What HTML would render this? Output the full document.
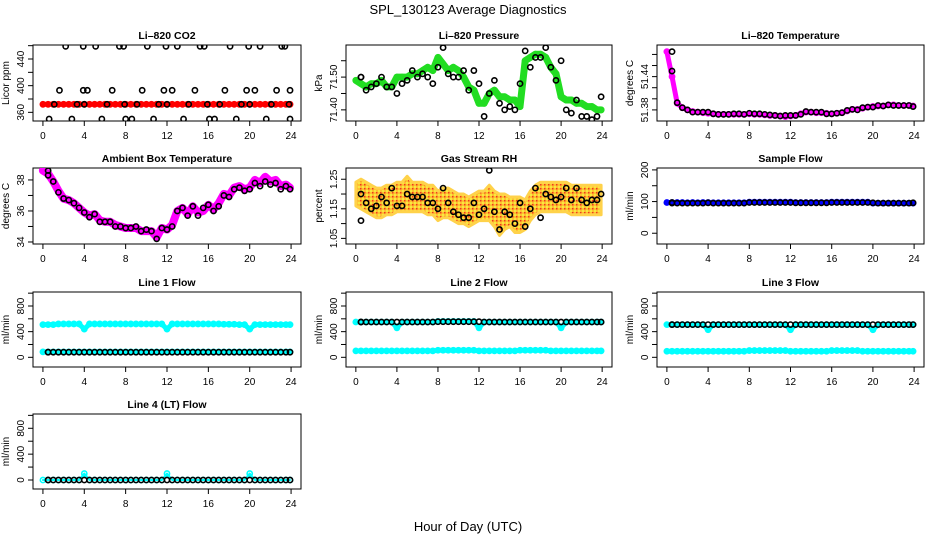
<!DOCTYPE html>
<html><head><meta charset="utf-8">
<style>
body{margin:0;background:#fff;}
svg{display:block;font-family:"Liberation Sans",sans-serif;}
</style></head>
<body>
<svg id="chart" width="936" height="540" viewBox="0 0 936 540">
<text x="468" y="14" text-anchor="middle" font-size="13">SPL_130123  Average Diagnostics</text>
<text x="468" y="531" text-anchor="middle" font-size="13">Hour of Day (UTC)</text>
</svg>
<script>
const hoursHalf = [0,0.5,1,1.5,2,2.5,3,3.5,4,4.5,5,5.5,6,6.5,7,7.5,8,8.5,9,9.5,10,10.5,11,11.5,12,12.5,13,13.5,14,14.5,15,15.5,16,16.5,17,17.5,18,18.5,19,19.5,20,20.5,21,21.5,22,22.5,23,23.5,23.9];
const xTicks = [0,4,8,12,16,20,24];

// CO2
const co2Band = [372,372,372,372,372,372,372,372,372,372,372,372,372,372,372,372,372,372,372,372,372,372,372,372,372,372,372,372,372,372,372,372,372,372,372,372,372,372,372,372,372,372,372,372,372,372,372,372,372];
const co2BlackT = [0.6,1.1,1.6,2.2,2.8,3.3,3.9,3.9,4.0,4.3,5.1,5.7,6.2,6.7,7.4,7.8,7.9,8.0,8.6,9.1,9.6,10.1,10.7,11.2,11.7,11.9,12.0,12.5,13.0,13.6,14.1,14.7,15.2,15.6,15.9,16.1,16.6,17.1,17.6,18.1,18.7,19.2,19.7,19.9,20.0,20.5,21.0,21.6,22.1,22.6,23.1,23.4,23.8,23.9,23.9];
const co2BlackV = [350,372,393,459,350,372,459,393,372,393,459,350,372,393,459,459,372,350,350,372,393,459,350,372,393,459,372,393,459,350,372,393,459,459,372,350,350,372,393,459,350,372,393,459,372,393,459,350,372,393,459,459,372,393,350];

// Pressure
const presGreen = [71.49,71.48,71.47,71.48,71.48,71.49,71.47,71.47,71.50,71.50,71.50,71.51,71.51,71.52,71.53,71.52,71.56,71.54,71.52,71.53,71.52,71.50,71.47,71.46,71.42,71.42,71.45,71.46,71.44,71.44,71.43,71.43,71.41,71.55,71.56,71.57,71.57,71.56,71.53,71.51,71.44,71.43,71.43,71.42,71.42,71.41,71.41,71.40,71.40];
const presBlack = [71.50,71.50,71.46,71.47,71.48,71.50,71.47,71.47,71.45,71.48,71.49,71.52,71.50,71.51,71.50,71.48,71.53,71.59,71.51,71.50,71.50,71.52,71.46,71.52,71.48,71.38,71.45,71.49,71.42,71.40,71.41,71.40,71.48,71.58,71.53,71.56,71.56,71.59,71.53,71.49,71.55,71.40,71.39,71.43,71.38,71.38,71.37,71.38,71.44];

// Li-820 temperature
const tempMag = [51.485,51.44,51.392,51.384,51.380,51.377,51.376,51.375,51.374,51.373,51.372,51.372,51.372,51.372,51.372,51.372,51.373,51.372,51.372,51.371,51.370,51.370,51.369,51.368,51.369,51.370,51.373,51.376,51.376,51.375,51.375,51.374,51.373,51.374,51.375,51.378,51.381,51.381,51.383,51.385,51.386,51.387,51.387,51.389,51.389,51.388,51.388,51.388,51.387];
const tempBlack = [51.485,51.450,51.393,51.384,51.380,51.376,51.376,51.376,51.376,51.373,51.372,51.372,51.372,51.373,51.373,51.372,51.374,51.373,51.373,51.372,51.371,51.370,51.369,51.370,51.370,51.370,51.372,51.377,51.376,51.376,51.376,51.373,51.373,51.374,51.375,51.379,51.381,51.380,51.384,51.385,51.385,51.388,51.387,51.389,51.388,51.388,51.388,51.388,51.386];

// Ambient box temperature
const ambMag = [38.6,38.4,37.9,37.3,36.8,36.7,36.5,36.2,35.9,35.7,35.8,35.4,35.3,35.3,35.1,35.0,34.9,34.9,34.9,34.7,34.7,34.7,34.3,34.9,34.8,35.1,36.0,36.2,35.8,36.3,35.9,36.0,36.4,36.1,36.5,37.1,37.0,37.5,37.6,37.4,37.5,38.0,37.8,38.2,37.9,38.0,37.6,37.7,37.5];
const ambBlack = [38.6,38.3,37.9,37.2,36.8,36.7,36.5,36.2,35.9,35.6,35.8,35.3,35.3,35.3,35.0,35.0,34.9,34.9,35.0,34.7,34.8,34.7,34.2,34.9,34.8,35.0,36.0,36.2,35.7,36.3,35.7,36.2,36.4,36.0,36.3,37.0,36.9,37.4,37.5,37.3,37.4,37.8,37.6,37.9,37.7,37.8,37.4,37.6,37.4];

// Gas stream RH
const rhMid = [1.20,1.20,1.19,1.18,1.17,1.17,1.18,1.18,1.19,1.19,1.20,1.19,1.19,1.19,1.18,1.18,1.16,1.17,1.17,1.16,1.15,1.15,1.14,1.15,1.16,1.16,1.17,1.15,1.13,1.14,1.14,1.13,1.13,1.13,1.16,1.18,1.19,1.19,1.19,1.19,1.19,1.19,1.18,1.18,1.18,1.18,1.18,1.18,1.18];
const rhSpread = [0.04,0.05,0.05,0.05,0.05,0.05,0.05,0.05,0.05,0.05,0.06,0.05,0.05,0.05,0.05,0.05,0.05,0.05,0.05,0.05,0.05,0.05,0.05,0.05,0.05,0.05,0.06,0.06,0.07,0.06,0.05,0.06,0.06,0.05,0.05,0.05,0.05,0.05,0.05,0.05,0.05,0.05,0.05,0.05,0.05,0.05,0.05,0.05,0.05];
const rhBlack = [1.20,1.11,1.17,1.15,1.16,1.19,1.17,1.22,1.16,1.16,1.20,1.19,1.19,1.19,1.17,1.17,1.15,1.22,1.17,1.14,1.13,1.12,1.12,1.17,1.13,1.15,1.28,1.14,1.08,1.14,1.13,1.10,1.17,1.09,1.15,1.22,1.12,1.20,1.19,1.18,1.19,1.22,1.18,1.22,1.18,1.17,1.18,1.18,1.20];

// Sample flow
const sampBlue = [97,97,97,97,96,97,96,97,97,96,96,96,96,96,96,96,98,98,98,98,98,98,98,98,98,97,97,97,97,97,97,97,98,98,98,98,98,98,98,98,95,95,95,95,95,95,95,95,95];
const sampBlack = [97,95,95,95,95,95,95,95,96,95,95,95,95,95,95,95,97,97,97,97,97,97,97,97,97,96,96,96,96,96,96,96,97,97,97,97,97,97,97,97,96,95,95,95,95,95,95,95,96];

// Flows
const l1CyanHi = [510,510,510,520,520,520,520,520,440,520,520,520,520,520,520,520,520,520,520,520,520,520,520,520,440,520,520,520,520,520,520,520,520,520,520,515,515,515,510,510,440,510,510,510,510,510,510,510,510];
const l1CyanLo = [85,85,85,85,85,85,85,85,85,85,85,85,85,85,85,85,85,85,85,85,85,85,85,85,85,85,85,85,85,85,85,85,85,85,85,85,85,85,85,85,85,85,85,85,85,85,85,85,85];
const l1Black = [80,80,80,80,80,80,80,80,80,80,80,80,80,80,80,80,80,80,80,80,80,80,80,80,80,80,80,80,80,80,80,80,80,80,80,80,80,80,80,80,80,80,80,80,80,80,80,80,80];
const l2CyanHi = [550,550,550,550,550,550,550,550,460,550,550,550,550,550,550,550,560,560,560,560,560,560,560,560,460,550,550,550,550,550,550,550,550,550,550,550,550,550,550,550,460,550,550,550,550,550,550,550,550];
const l2CyanLo = [100,100,100,100,100,100,100,100,100,100,100,100,100,100,100,100,110,110,110,110,110,110,110,110,100,100,100,100,100,100,100,100,110,110,110,110,110,110,100,100,100,100,100,100,100,100,100,100,100];
const l2Black = [550,550,550,550,550,550,550,550,550,550,550,550,550,550,550,550,555,555,555,555,555,555,555,555,555,550,550,550,550,550,550,550,550,550,550,550,550,550,550,550,550,550,550,550,550,550,550,550,550];
const l3CyanHi = [510,510,510,510,510,510,510,510,430,510,510,510,510,510,510,510,510,510,510,510,510,510,510,510,430,510,510,510,510,510,510,510,510,510,510,510,510,510,510,510,430,510,510,510,510,510,510,510,510];
const l3CyanLo = [95,95,95,95,95,95,95,95,95,95,95,95,95,95,95,95,105,105,105,105,105,105,105,105,95,95,95,95,95,95,95,95,105,105,105,105,105,105,95,95,95,95,95,95,95,95,95,95,95];
const l3Black = [510,510,510,510,510,510,510,510,510,510,510,510,510,510,510,510,510,510,510,510,510,510,510,510,510,510,510,510,510,510,510,510,510,510,510,510,510,510,510,510,510,510,510,510,510,510,510,510,510];
const l4Cyan = [0,0,0,0,0,0,0,0,100,0,0,0,0,0,0,0,0,0,0,0,0,0,0,0,100,0,0,0,0,0,0,0,0,0,0,0,0,0,0,0,100,0,0,0,0,0,0,0,0];
const l4Black = [0,0,0,0,0,0,0,0,0,0,0,0,0,0,0,0,0,0,0,0,0,0,0,0,0,0,0,0,0,0,0,0,0,0,0,0,0,0,0,0,0,0,0,0,0,0,0,0,0];

const svg = document.getElementById('chart');
const NS = 'http://www.w3.org/2000/svg';
function mk(tag, attrs, parent){const e=document.createElementNS(NS,tag);for(const k in attrs)e.setAttribute(k,attrs[k]);(parent||svg).appendChild(e);return e;}

const cols=[[33,301],[346,612],[657,924]];
const rows=[[45,121],[168,244],[292,367],[414,489]];

function panel(p){
  const [x0,x1]=cols[p.c],[y0,y1]=rows[p.r];
  const g=mk('g',{});
  
  
  const X=t=>x0+(t+0.96)/(25.92)*(x1-x0);
  const Y=v=>y1-(v-p.ymin)/(p.ymax-p.ymin)*(y1-y0);
  const clip='clip'+p.c+p.r;
  const cp=mk('clipPath',{id:clip},g); mk('rect',{x:x0,y:y0,width:x1-x0,height:y1-y0},cp);
  const title=mk('text',{x:(x0+x1)/2,y:y0-6,'text-anchor':'middle','font-size':10.5,'font-weight':'bold'},g);
  title.textContent=p.title;
  
  
  const box=mk('rect',{x:x0,y:y0,width:x1-x0,height:y1-y0,fill:'none',stroke:'#000','stroke-width':1},g);
  
  
  xTicks.forEach(t=>{
    mk('line',{x1:X(t),x2:X(t),y1:y1,y2:y1+5,stroke:'#000'},g);
    const tx=mk('text',{x:X(t),y:y1+18,'text-anchor':'middle','font-size':10},g);
    tx.textContent=t;
    
    
  });
  mk('line',{x1:X(0),x2:X(24),y1:y1,y2:y1,stroke:'#000'},g);
  p.yTicks.forEach(v=>{
    mk('line',{x1:x0-5,x2:x0,y1:Y(v),y2:Y(v),stroke:'#000'},g);
  });
  p.yLabels.forEach(v=>{
    const tx=mk('text',{x:0,y:0,'text-anchor':'middle','font-size':10,transform:`translate(${x0-9},${Y(v)}) rotate(-90)`},g);
    tx.textContent=p.fmt?p.fmt(v):v;
    
    
  });
  const yt=mk('text',{x:0,y:0,'text-anchor':'middle','font-size':10,transform:`translate(${x0-24},${(y0+y1)/2}) rotate(-90)`},g);
  yt.textContent=p.ylab;
  
  
  const pg=mk('g',{'clip-path':`url(#${clip})`},g);
  (p.bands||[]).forEach(b=>{
    const pts=b.v.map((v,i)=>X(b.t[i]).toFixed(1)+','+Y(v).toFixed(1)).join(' ');
    const pl=mk('polyline',{points:pts,fill:'none',stroke:b.color,'stroke-width':b.w||5,'stroke-linejoin':'round','stroke-linecap':'round'},pg);
    
    
    b.v.forEach((v,i)=>{
      const c=mk('circle',{cx:X(b.t[i]),cy:Y(v),r:2.6,fill:'none',stroke:b.color,'stroke-width':1.6},pg);
      
      
    });
  });
  (p.clouds||[]).forEach(cl=>{
    const up=cl.mid.map((m,i)=>X(cl.t[i]).toFixed(1)+','+Y(m+cl.sp[i]).toFixed(1));
    const dn=cl.mid.map((m,i)=>X(cl.t[i]).toFixed(1)+','+Y(m-cl.sp[i]).toFixed(1)).reverse();
    const poly=mk('polygon',{points:up.concat(dn).join(' '),fill:'url(#rhpat)',stroke:'#ffd24a','stroke-width':3,'stroke-linejoin':'round'},pg);
    
    
  });
  (p.blacks||[]).forEach(b=>{
    b.v.forEach((v,i)=>{
      const c=mk('circle',{cx:X(b.t[i]),cy:Y(v),r:2.6,fill:'none',stroke:'#000','stroke-width':1.6},pg);
      
      
    });
  });
}

const defs=mk('defs',{});
const pat=mk('pattern',{id:'rhpat',width:4,height:4,patternUnits:'userSpaceOnUse'},defs);
mk('rect',{width:4,height:4,fill:'#ffc030'},pat);
mk('rect',{x:0,y:0,width:1.5,height:1.5,fill:'#ec3a20'},pat);
mk('rect',{x:2,y:2,width:2,height:2,fill:'#f8e840'},pat);

const blackT = hoursHalf.map(t=>Math.max(t,0.5));
function rng(a,b,s){const r=[];for(let v=a;v<=b+1e-9;v+=s)r.push(Math.round(v*1000)/1000);return r;}

panel({c:0,r:0,name:'co2',title:'Li–820 CO2',ylab:'Licor ppm',ymin:347,ymax:461,yTicks:rng(360,460,20),yLabels:[360,400,440],
  bands:[{t:hoursHalf,v:co2Band,color:'#ff0000',name:'co2-series'}],
  blacks:[{t:co2BlackT,v:co2BlackV,name:'co2-avg-point'}]});
panel({c:1,r:0,name:'pressure',title:'Li–820 Pressure',ylab:'kPa',ymin:71.366,ymax:71.598,yTicks:rng(71.40,71.55,0.05),yLabels:[71.40,71.50],fmt:v=>v.toFixed(2),
  bands:[{t:hoursHalf,v:presGreen,color:'#22dd22',name:'pressure-series',w:7}],
  blacks:[{t:blackT,v:presBlack,name:'pressure-avg-point'}]});
panel({c:2,r:0,name:'li820-temp',title:'Li–820 Temperature',ylab:'degrees C',ymin:51.360,ymax:51.497,yTicks:rng(51.38,51.48,0.02),yLabels:[51.38,51.44],fmt:v=>v.toFixed(2),
  bands:[{t:hoursHalf,v:tempMag,color:'#ff00ff',name:'li820-temp-series'}],
  blacks:[{t:blackT,v:tempBlack,name:'li820-temp-avg-point'}]});
panel({c:0,r:1,name:'ambient-temp',title:'Ambient Box Temperature',ylab:'degrees C',ymin:33.87,ymax:38.77,yTicks:[34,35,36,37,38],yLabels:[34,36,38],
  bands:[{t:hoursHalf,v:ambMag,color:'#ff00ff',name:'ambient-temp-series',w:8}],
  blacks:[{t:blackT,v:ambBlack,name:'ambient-temp-avg-point'}]});
panel({c:1,r:1,name:'gas-rh',title:'Gas Stream RH',ylab:'percent',ymin:1.031,ymax:1.288,yTicks:rng(1.05,1.25,0.05),yLabels:[1.05,1.15,1.25],fmt:v=>v.toFixed(2),
  clouds:[{t:hoursHalf,mid:rhMid,sp:rhSpread,name:'gas-rh-series'}],
  blacks:[{t:blackT,v:rhBlack,name:'gas-rh-avg-point'}]});
panel({c:2,r:1,name:'sample-flow',title:'Sample Flow',ylab:'ml/min',ymin:-34,ymax:206,yTicks:[0,50,100,150,200],yLabels:[0,100,200],
  bands:[{t:hoursHalf,v:sampBlue,color:'#0000ff',name:'sample-flow-series'}],
  blacks:[{t:blackT,v:sampBlack,name:'sample-flow-avg-point'}]});
panel({c:0,r:2,name:'line1-flow',title:'Line 1 Flow',ylab:'ml/min',ymin:-151,ymax:1018,yTicks:rng(0,1000,200),yLabels:[0,400,800],
  bands:[{t:hoursHalf,v:l1CyanHi,color:'#00ffff',name:'line1-high-series'},{t:hoursHalf,v:l1CyanLo,color:'#00ffff',name:'line1-low-series'}],
  blacks:[{t:blackT,v:l1Black,name:'line1-avg-point'}]});
panel({c:1,r:2,name:'line2-flow',title:'Line 2 Flow',ylab:'ml/min',ymin:-151,ymax:1018,yTicks:rng(0,1000,200),yLabels:[0,400,800],
  bands:[{t:hoursHalf,v:l2CyanHi,color:'#00ffff',name:'line2-high-series'},{t:hoursHalf,v:l2CyanLo,color:'#00ffff',name:'line2-low-series'}],
  blacks:[{t:blackT,v:l2Black,name:'line2-avg-point'}]});
panel({c:2,r:2,name:'line3-flow',title:'Line 3 Flow',ylab:'ml/min',ymin:-151,ymax:1018,yTicks:rng(0,1000,200),yLabels:[0,400,800],
  bands:[{t:hoursHalf,v:l3CyanHi,color:'#00ffff',name:'line3-high-series'},{t:hoursHalf,v:l3CyanLo,color:'#00ffff',name:'line3-low-series'}],
  blacks:[{t:blackT,v:l3Black,name:'line3-avg-point'}]});
panel({c:0,r:3,name:'line4-flow',title:'Line 4 (LT) Flow',ylab:'ml/min',ymin:-139,ymax:1021,yTicks:rng(0,1000,200),yLabels:[0,400,800],
  bands:[{t:hoursHalf,v:l4Cyan,color:'#00ffff',name:'line4-series',w:2}],
  blacks:[{t:blackT,v:l4Black,name:'line4-avg-point'}]});
</script>
</body></html>
